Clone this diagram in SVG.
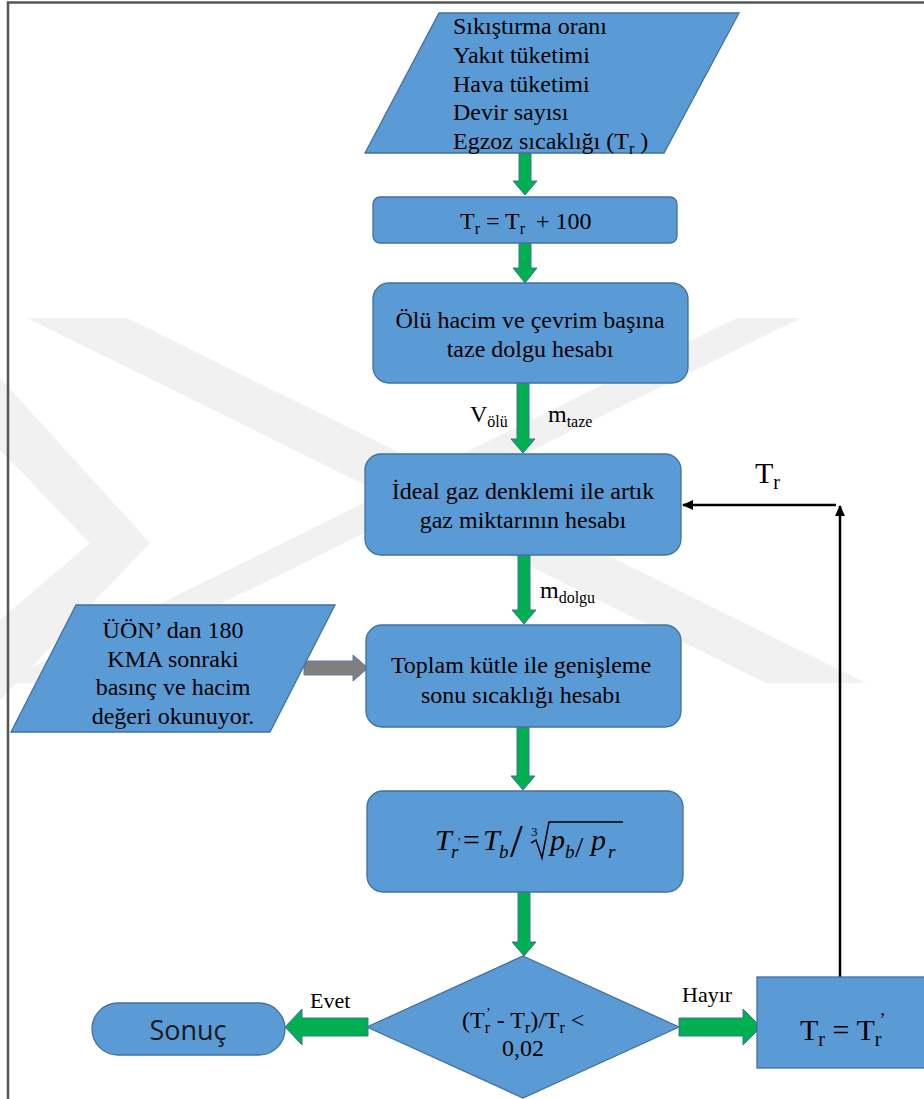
<svg xmlns="http://www.w3.org/2000/svg" width="924" height="1099" viewBox="0 0 924 1099">
<style>
.node{fill:#5B9BD5;stroke:#41719C;stroke-width:1.3}
.ga{fill:#00B050;stroke:#41719C;stroke-width:1}
.gr{fill:#7F7F7F;stroke:#5B7FA8;stroke-width:1}
.t{font-family:"Liberation Serif","Times New Roman",serif;font-size:24px;fill:#000}
.c{text-anchor:middle}
.sub{font-size:16px}
.it{font-style:italic}
.big{font-size:30px}
.bsub{font-size:20px}
.msub{font-size:19px}
.wm{fill:#f1f1f1}
.fb{stroke:#000;stroke-width:2.5;fill:none}
</style>
<defs>
<marker id="ah" markerUnits="userSpaceOnUse" markerWidth="12" markerHeight="12" refX="10" refY="6" orient="auto">
<path d="M0,1 L11,6 L0,11 Z" fill="#000"/>
</marker>
</defs>
<rect width="924" height="1099" fill="#fff"/>
<g id="watermark">
<polygon class="wm" points="27,318 127,318 866,683 766,683"/>
<polygon class="wm" points="737,318 801,318 60,683 0,683"/>
<polygon class="wm" points="0,378 150,543 0,700 0,620 90,543 0,450"/>
</g>
<path d="M8,1099 V2.5 H924" fill="none" stroke="#555" stroke-width="2.5"/>
<g id="connectors">
<polygon class="ga" points="519,153 531,153 531,181 537,181 525,195 513,181 519,181"/>
<polygon class="ga" points="519,243 531,243 531,268 537,268 525,283 513,268 519,268"/>
<polygon class="ga" points="517,383 529,383 529,439 535,439 523,453 511,439 517,439"/>
<polygon class="ga" points="518,555 530,555 530,610 536,610 524,624 512,610 518,610"/>
<polygon class="ga" points="517,727 529,727 529,776 535,776 523,790 511,776 517,776"/>
<polygon class="ga" points="518,892 530,892 530,942 536,942 524,956 512,942 518,942"/>
<polygon class="ga" points="368,1018 302,1018 302,1009 285,1027 302,1045 302,1036 368,1036"/>
<polygon class="ga" points="679,1018 743,1018 743,1009 761,1027 743,1045 743,1036 679,1036"/>
<polygon class="gr" points="304,661 353,661 353,655 368,668 353,681 353,675 304,675"/>
<line class="fb" x1="840" y1="977" x2="840" y2="506" marker-end="url(#ah)"/>
<line class="fb" x1="836" y1="505" x2="683" y2="505" marker-end="url(#ah)"/>
<text class="t" x="470" y="422">V<tspan class="sub" dy="5">ölü</tspan></text>
<text class="t" x="548" y="422">m<tspan class="sub" dy="5">taze</tspan></text>
<text class="t" x="540" y="598">m<tspan class="sub" dy="5">dolgu</tspan></text>
<text class="t big" x="755" y="483">T<tspan class="bsub" dy="6">r</tspan></text>
<text class="t" x="310" y="1008" style="font-size:22px">Evet</text>
<text class="t" x="682" y="1002" style="font-size:22px">Hayır</text>
</g>
<g id="n1">
<polygon class="node" points="439,13 739,13 664,153 365,153"/>
<text class="t" x="453" y="34">Sıkıştırma oranı</text>
<text class="t" x="453" y="63">Yakıt tüketimi</text>
<text class="t" x="453" y="92">Hava tüketimi</text>
<text class="t" x="453" y="120">Devir sayısı</text>
<text class="t" x="453" y="149">Egzoz sıcaklığı (T<tspan class="sub" dy="5">r</tspan><tspan dy="-5"> )</tspan></text>
</g>
<g id="n2">
<rect class="node" x="373" y="197" width="304" height="46" rx="7"/>
<text class="t" x="460" y="229">T<tspan class="sub" dy="5">r</tspan><tspan dy="-5"> = T</tspan><tspan class="sub" dy="5">r</tspan></text>
<text class="t" x="536" y="229">+ 100</text>
</g>
<g id="n3">
<rect class="node" x="373" y="283" width="315" height="100" rx="16"/>
<text class="t c" x="530" y="328">Ölü hacim ve çevrim başına</text>
<text class="t c" x="530" y="357">taze dolgu hesabı</text>
</g>
<g id="n4">
<rect class="node" x="365" y="454" width="316" height="101" rx="16"/>
<text class="t c" x="523" y="499">İdeal gaz denklemi ile artık</text>
<text class="t c" x="523" y="528">gaz miktarının hesabı</text>
</g>
<g id="n5">
<rect class="node" x="366" y="625" width="315" height="102" rx="16"/>
<text class="t c" x="521" y="673">Toplam kütle ile genişleme</text>
<text class="t c" x="521" y="703">sonu sıcaklığı hesabı</text>
</g>
<g id="n6">
<polygon class="node" points="76,605 335,605 270,732 11,732"/>
<text class="t c" x="173" y="638">ÜÖN’ dan 180</text>
<text class="t c" x="173" y="667">KMA sonraki</text>
<text class="t c" x="173" y="695">basınç ve hacim</text>
<text class="t c" x="173" y="724">değeri okunuyor.</text>
</g>
<g id="n7">
<rect class="node" x="367" y="791" width="316" height="101" rx="16"/>
<text class="t it big" x="435" y="850">T</text>
<text class="t it msub" x="451" y="858">r</text>
<text class="t" x="458" y="846" style="font-size:13px">'</text>
<text class="t big" x="463" y="850">=</text>
<text class="t it big" x="483" y="850">T</text>
<text class="t it msub" x="499" y="858">b</text>
<text class="t" x="510" y="857" style="font-size:46px">/</text>
<text class="t" x="531" y="836" style="font-size:13px">3</text>
<polyline points="531,843 536,840 542,858 549,822 623,822" fill="none" stroke="#000" stroke-width="1.5"/>
<text class="t it big" x="550" y="850">p</text>
<text class="t it msub" x="565" y="858">b</text>
<text class="t" x="575" y="857" style="font-size:30px">/</text>
<text class="t it big" x="591" y="850">p</text>
<text class="t it msub" x="608" y="858">r</text>
</g>
<g id="n8">
<polygon class="node" points="523,956 679,1027 523,1098 367,1027"/>
<text class="t" x="462" y="1028">(T<tspan class="sub" dy="5">r</tspan><tspan style="font-size:14px" dx="-4" dy="-15">’</tspan><tspan dy="10"> - T</tspan><tspan class="sub" dy="5">r</tspan><tspan dy="-5">)/T</tspan><tspan class="sub" dy="5">r</tspan><tspan dy="-5"> &lt;</tspan></text>
<text class="t c" x="523" y="1056">0,02</text>
</g>
<g id="n9">
<rect class="node" x="92" y="1003" width="193" height="52" rx="26"/>
<text x="188" y="1040" text-anchor="middle" font-family="'Open Sans','Noto Sans',sans-serif" font-size="27" fill="#1a1a1a">Sonuç</text>
</g>
<g id="n10">
<rect class="node" x="757" y="977" width="180" height="91"/>
<text class="t big" x="800" y="1040">T<tspan class="bsub" dy="6">r</tspan><tspan dy="-6"> = T</tspan><tspan class="bsub" dy="6">r</tspan><tspan style="font-size:18px" dx="-2" dy="-20">’</tspan></text>
</g>
</svg>
